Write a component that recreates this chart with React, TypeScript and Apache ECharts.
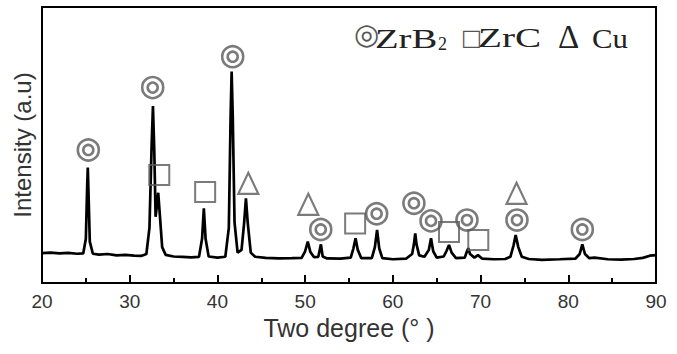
import React, { useEffect, useRef } from "react";
import * as echarts from "echarts";

// XRD pattern: [2θ (degree), intensity (a.u.)]
const pattern: [number, number][] = [
  [20.0, 10.8], [21.0, 11.0], [22.0, 10.7], [23.0, 10.9], [24.0, 10.6], [24.7, 10.7],
  [25.0, 16], [25.15, 35], [25.22, 41.8], [25.3, 33], [25.45, 15], [25.8, 10.6],
  [26.5, 10.3], [27.5, 10.5], [28.5, 10.0], [29.5, 10.2], [30.5, 9.9], [31.3, 9.8],
  [31.9, 10.5], [32.25, 20], [32.5, 50], [32.65, 64.1], [32.8, 48], [32.95, 24],
  [33.1, 28], [33.25, 32.7], [33.45, 24], [33.7, 13], [34.1, 10.2],
  [35.0, 9.6], [36.0, 9.5], [37.0, 9.3], [37.9, 9.5], [38.25, 16], [38.45, 27.1],
  [38.65, 16], [39.0, 9.6], [40.0, 9.2], [40.9, 9.5], [41.3, 20], [41.5, 60],
  [41.62, 76.6], [41.75, 60], [41.95, 22], [42.3, 11], [42.75, 12], [43.05, 22],
  [43.25, 30.7], [43.45, 22], [43.8, 11], [44.3, 9.5], [45.5, 9.1], [47.0, 8.9],
  [48.5, 9.0], [49.6, 9.1], [50.0, 11.5], [50.3, 15.0], [50.6, 11.2], [51.0, 9.4],
  [51.5, 9.5], [51.8, 14.0], [52.0, 9.6], [52.5, 8.9], [54.0, 8.8], [55.2, 9.2],
  [55.5, 12.5], [55.75, 16.2], [56.0, 12], [56.4, 9.0], [57.6, 9.0], [57.95, 13],
  [58.2, 19.2], [58.45, 12.5], [58.8, 9.0], [60.0, 8.6], [61.5, 8.8], [62.2, 10.5],
  [62.4, 14], [62.55, 18.0], [62.7, 14], [63.0, 10], [63.6, 9.5], [64.1, 12],
  [64.35, 16.2], [64.6, 11.5], [65.0, 9.2], [65.8, 9.6], [66.1, 11.5], [66.4, 13.8],
  [66.7, 11], [67.2, 9.0], [68.2, 9.2], [68.45, 11.5], [68.6, 12.6], [68.8, 10.5],
  [69.3, 9.2], [69.7, 10.1], [70.2, 8.8], [71.5, 8.6], [72.8, 8.7], [73.4, 9.5],
  [73.75, 13.5], [74.0, 17.4], [74.3, 13], [74.7, 9.5], [75.5, 8.7], [77.0, 8.4],
  [79.0, 8.6], [80.8, 8.8], [81.3, 10.5], [81.6, 14.0], [81.9, 10.5], [82.4, 9.0],
  [83.0, 9.2], [84.5, 8.6], [86.0, 8.5], [87.5, 8.7], [88.5, 9.1], [89.3, 9.9],
  [90.0, 10.1],
];

// Phase markers: [2θ, marker height]
const zrb2Marks: [number, number][] = [
  [25.28, 48.2], [32.62, 70.8], [41.74, 82.0], [51.78, 19.4], [58.15, 25.1],
  [62.4, 28.9], [64.35, 22.5], [68.45, 22.8], [74.15, 22.8], [81.6, 19.4],
];
const zrcMarks: [number, number][] = [
  [33.37, 39.1], [38.6, 33.0], [55.7, 21.6], [66.4, 18.5], [69.74, 15.6],
];
const cuMarks: [number, number][] = [
  [43.52, 36.1], [50.36, 28.5], [74.1, 32.5],
];

const xTicks = [20, 30, 40, 50, 60, 70, 80, 90];

export default function App() {
  const ref = useRef<HTMLDivElement>(null);
  useEffect(() => {
    document.body.style.margin = "0";
    const chart = echarts.init(ref.current!, null, { renderer: "svg" });
    const markColor = "#5a5a5a";
    const serif = "Liberation Serif";
    const legendText = (text: string, x: number, y: number, size: number, sx: number, fill = "#222", family = serif) => ({
      type: "text",
      x,
      y,
      scaleX: sx,
      style: { text, fontFamily: family, fontSize: size, fill, align: "left", verticalAlign: "middle" },
    });
    chart.setOption({
      animation: false,
      backgroundColor: "#fff",
      grid: {
        left: 42, top: 7, right: 21, bottom: 71,
        show: true, borderColor: "#000", borderWidth: 2,
      },
      xAxis: {
        type: "value",
        min: xTicks[0],
        max: xTicks[xTicks.length - 1],
        interval: 10,
        name: "Two degree (° )",
        nameLocation: "middle",
        nameGap: 31,
        nameTextStyle: { fontFamily: "Liberation Sans", fontSize: 25, color: "#333" },
        axisLine: { show: true, lineStyle: { color: "#000", width: 2 } },
        axisTick: { show: true, inside: true, length: 8, lineStyle: { color: "#000", width: 2 } },
        minorTick: { show: true, splitNumber: 2, length: 5, lineStyle: { color: "#000", width: 2 } },
        axisLabel: { margin: 9, fontFamily: "Liberation Sans", fontSize: 19, color: "#333" },
        splitLine: { show: false },
      },
      yAxis: {
        type: "value",
        min: 0,
        max: 100,
        name: "Intensity (a.u)",
        nameLocation: "middle",
        nameGap: 8,
        nameTextStyle: { fontFamily: "Liberation Sans", fontSize: 24, color: "#333" },
        axisLine: { show: true, lineStyle: { color: "#000", width: 2 } },
        axisTick: { show: false },
        axisLabel: { show: false },
        splitLine: { show: false },
      },
      graphic: [
        legendText("◎", 354, 34, 29, 1, "#555", "DejaVu Sans"),
        legendText("ZrB", 375, 38, 28, 1.38),
        legendText("2", 438, 44, 18, 1),
        legendText("□", 461, 37, 22, 1, "#555", "DejaVu Sans"),
        legendText("ZrC", 478, 38, 28, 1.4),
        legendText("Δ", 558, 37, 33, 1),
        legendText("Cu", 592, 38, 28, 1.1),
      ],
      series: [
        {
          type: "line",
          data: pattern,
          showSymbol: false,
          lineStyle: { color: "#000", width: 2.7 },
          z: 3,
        },
        {
          type: "scatter",
          data: zrb2Marks,
          symbol: "circle",
          symbolSize: 21,
          itemStyle: { color: "rgba(0,0,0,0)", borderColor: markColor, borderWidth: 2.6 },
          z: 4,
        },
        {
          type: "scatter",
          data: zrb2Marks,
          symbol: "circle",
          symbolSize: 10,
          itemStyle: { color: "rgba(0,0,0,0)", borderColor: markColor, borderWidth: 2.6 },
          z: 4,
        },
        {
          type: "scatter",
          data: zrcMarks,
          symbol: "rect",
          symbolSize: 20,
          itemStyle: { color: "rgba(0,0,0,0)", borderColor: markColor, borderWidth: 2 },
          z: 4,
        },
        {
          type: "scatter",
          data: cuMarks,
          symbol: "triangle",
          symbolSize: [20, 21],
          itemStyle: { color: "rgba(0,0,0,0)", borderColor: markColor, borderWidth: 2.2 },
          z: 4,
        },
      ],
    });
    return () => chart.dispose();
  }, []);
  return <div ref={ref} style={{ width: 677, height: 354 }} />;
}
